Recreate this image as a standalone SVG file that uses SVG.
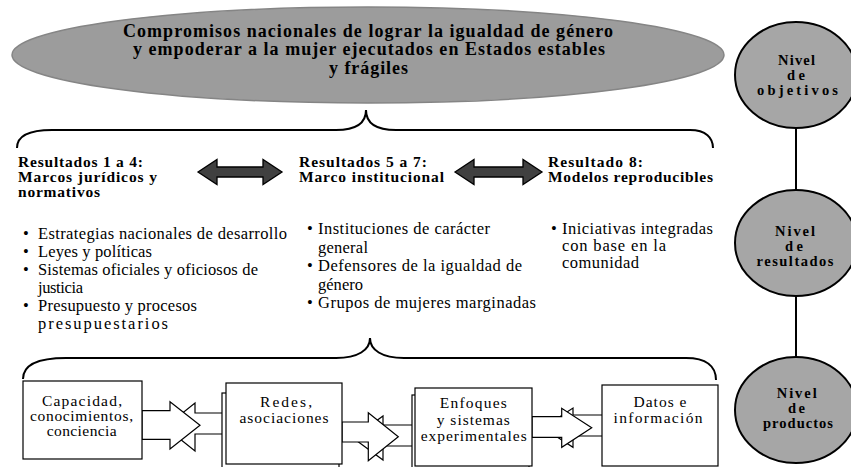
<svg xmlns="http://www.w3.org/2000/svg" width="851" height="467" viewBox="0 0 851 467">
<defs>
<style>
text{font-family:'Liberation Serif','Times New Roman',serif;fill:#000}
.b{font-weight:bold}
.ti{font-size:18px}
.hd{font-size:15.5px}
.bl{font-size:16.5px}
.bx{font-size:15.5px}
.cc{font-size:14.5px}
.brace{fill:none;stroke:#000;stroke-width:2}
.dbl{fill:#404040;stroke:#000;stroke-width:1.3;stroke-linejoin:miter}
.blk{fill:#fff;stroke:#000;stroke-width:1.2}
.box{fill:#fff;stroke:#000;stroke-width:1.2}
.lvl{fill:#a6a6a6;stroke:#000;stroke-width:2}
.conn{stroke:#000;stroke-width:2}
</style>
</defs>
<rect width="851" height="467" fill="#fff"/>

<g id="goal">
<ellipse cx="368" cy="55" rx="356" ry="48" fill="#9c9c9c" stroke="#858585" stroke-width="1.5"/>
<text class="b ti" x="368" y="37" text-anchor="middle" textLength="490" lengthAdjust="spacing">Compromisos nacionales de lograr la igualdad de género</text>
<text class="b ti" x="369" y="55" text-anchor="middle" textLength="472" lengthAdjust="spacing">y empoderar a la mujer ejecutados en Estados estables</text>
<text class="b ti" x="368.5" y="74" text-anchor="middle" textLength="79" lengthAdjust="spacing">y frágiles</text>
</g>

<g id="braces">
<path class="brace" d="M17 148 C17 136 28 130 52 130 L336 130 C356 130 366 124 366 110 C366 124 376 130 396 130 L690 130 C706 130 713 138 713 148"/>
<path class="brace" d="M23 379 C23 366 36 358 66 358 L336 358 C358 358 370 350 370 338 C370 350 382 358 404 358 L686 358 C706 358 716 366 716 380"/>
</g>

<g id="res1-4">
<text class="b hd" x="18" y="167" textLength="125" lengthAdjust="spacing">Resultados 1 a 4:</text>
<text class="b hd" x="18" y="182" textLength="139" lengthAdjust="spacing">Marcos jurídicos y</text>
<text class="b hd" x="18" y="197" textLength="82" lengthAdjust="spacing">normativos</text>
<text class="bl" x="23" y="238.5">•</text>
<text class="bl" x="38" y="238.5" textLength="249" lengthAdjust="spacing">Estrategias nacionales de desarrollo</text>
<text class="bl" x="23" y="257">•</text>
<text class="bl" x="38" y="257" textLength="114" lengthAdjust="spacing">Leyes y políticas</text>
<text class="bl" x="23" y="275">•</text>
<text class="bl" x="38" y="275" textLength="220" lengthAdjust="spacing">Sistemas oficiales y oficiosos de</text>
<text class="bl" x="38" y="293" textLength="45" lengthAdjust="spacing">justicia</text>
<text class="bl" x="23" y="311">•</text>
<text class="bl" x="38" y="311" textLength="159" lengthAdjust="spacing">Presupuesto y procesos</text>
<text class="bl" x="38" y="329" textLength="130" lengthAdjust="spacing">presupuestarios</text>
</g>

<g id="res5-7">
<text class="b hd" x="299" y="167" textLength="128" lengthAdjust="spacing">Resultados 5 a 7:</text>
<text class="b hd" x="299" y="182" textLength="145" lengthAdjust="spacing">Marco institucional</text>
<text class="bl" x="307" y="234">•</text>
<text class="bl" x="318" y="234" textLength="172" lengthAdjust="spacing">Instituciones de carácter</text>
<text class="bl" x="318" y="252.5" textLength="50" lengthAdjust="spacing">general</text>
<text class="bl" x="307" y="271">•</text>
<text class="bl" x="318" y="271" textLength="204" lengthAdjust="spacing">Defensores de la igualdad de</text>
<text class="bl" x="318" y="289.5" textLength="45" lengthAdjust="spacing">género</text>
<text class="bl" x="307" y="308">•</text>
<text class="bl" x="318" y="308" textLength="218" lengthAdjust="spacing">Grupos de mujeres marginadas</text>
</g>

<g id="res8">
<text class="b hd" x="548" y="167" textLength="95" lengthAdjust="spacing">Resultado 8:</text>
<text class="b hd" x="548" y="182" textLength="165" lengthAdjust="spacing">Modelos reproducibles</text>
<text class="bl" x="551" y="234">•</text>
<text class="bl" x="562" y="234" textLength="151" lengthAdjust="spacing">Iniciativas integradas</text>
<text class="bl" x="562" y="251" textLength="104" lengthAdjust="spacing">con base en la</text>
<text class="bl" x="562" y="268" textLength="77" lengthAdjust="spacing">comunidad</text>
</g>

<g id="connectors">
<polygon class="dbl" points="198,172 217,159.5 217,167 263,167 263,159.5 282,172 263,184.5 263,177 217,177 217,184.5"/>
<polygon class="dbl" points="455,172 474,159.5 474,167 523,167 523,159.5 542,172 523,184.5 523,177 474,177 474,184.5"/>
<line class="conn" x1="796" y1="128" x2="796" y2="190"/>
<line class="conn" x1="796" y1="296" x2="796" y2="357"/>
<polygon class="blk" points="230,413 195,413 195,403 165,427 195,451 195,434 230,434"/>
<polygon class="blk" points="420,425 383,425 383,416 353,438 383,460 383,446 420,446"/>
<polygon class="blk" points="610,415 573,415 573,408 543,427.7 573,447.3 573,436 610,436"/>
<polygon class="blk" points="142,410.7 170,410.7 170,401.7 200,425.3 170,449 170,439.3 142,439.3"/>
<polygon class="blk" points="342,422 368.3,422 368.3,412.7 398.3,436.7 368.3,460.7 368.3,442 342,442"/>
<polygon class="blk" points="532,416.7 561.7,416.7 561.7,408.3 591.7,427.8 561.7,447.3 561.7,437.3 532,437.3"/>
</g>

<g id="box-capacidad">
<rect class="box" x="23" y="381" width="119" height="78"/>
<text class="bx" x="82" y="406" text-anchor="middle" textLength="80" lengthAdjust="spacing">Capacidad,</text>
<text class="bx" x="81.5" y="421" text-anchor="middle" textLength="103" lengthAdjust="spacing">conocimientos,</text>
<text class="bx" x="81.7" y="436" text-anchor="middle" textLength="70" lengthAdjust="spacing">conciencia</text>
</g>

<g id="box-redes">
<rect class="box" x="222" y="393" width="117" height="82"/>
<rect class="box" x="226" y="383" width="116" height="81"/>
<text class="bx" x="286" y="406.5" text-anchor="middle" textLength="52" lengthAdjust="spacing">Redes,</text>
<text class="bx" x="284" y="423" text-anchor="middle" textLength="89" lengthAdjust="spacing">asociaciones</text>
</g>

<g id="box-enfoques">
<rect class="box" x="412" y="395" width="117" height="82"/>
<rect class="box" x="415" y="388" width="117" height="78"/>
<text class="bx" x="473.3" y="408" text-anchor="middle" textLength="67" lengthAdjust="spacing">Enfoques</text>
<text class="bx" x="473.3" y="424.5" text-anchor="middle" textLength="73" lengthAdjust="spacing">y sistemas</text>
<text class="bx" x="473.7" y="440.5" text-anchor="middle" textLength="106" lengthAdjust="spacing">experimentales</text>
</g>

<g id="box-datos">
<rect class="box" x="602" y="385" width="116" height="81"/>
<text class="bx" x="660" y="407.3" text-anchor="middle" textLength="53" lengthAdjust="spacing">Datos e</text>
<text class="bx" x="658" y="422.7" text-anchor="middle" textLength="89" lengthAdjust="spacing">información</text>
</g>

<g id="nivel-objetivos">
<ellipse class="lvl" cx="796" cy="75" rx="61" ry="53"/>
<text class="b cc" x="796.5" y="65" text-anchor="middle" textLength="37" lengthAdjust="spacing">Nivel</text>
<text class="b cc" x="796" y="80" text-anchor="middle" textLength="18" lengthAdjust="spacing">de</text>
<text class="b cc" x="797.5" y="95" text-anchor="middle" textLength="81" lengthAdjust="spacing">objetivos</text>
</g>

<g id="nivel-resultados">
<ellipse class="lvl" cx="796" cy="243" rx="61" ry="53"/>
<text class="b cc" x="795" y="235.5" text-anchor="middle" textLength="40" lengthAdjust="spacing">Nivel</text>
<text class="b cc" x="794" y="250.5" text-anchor="middle" textLength="18" lengthAdjust="spacing">de</text>
<text class="b cc" x="795" y="265.5" text-anchor="middle" textLength="77" lengthAdjust="spacing">resultados</text>
</g>

<g id="nivel-productos">
<ellipse class="lvl" cx="796" cy="410" rx="61" ry="53"/>
<text class="b cc" x="796.7" y="397.5" text-anchor="middle" textLength="40" lengthAdjust="spacing">Nivel</text>
<text class="b cc" x="796.5" y="412.5" text-anchor="middle" textLength="17" lengthAdjust="spacing">de</text>
<text class="b cc" x="798" y="427.5" text-anchor="middle" textLength="70" lengthAdjust="spacing">productos</text>
</g>
</svg>
